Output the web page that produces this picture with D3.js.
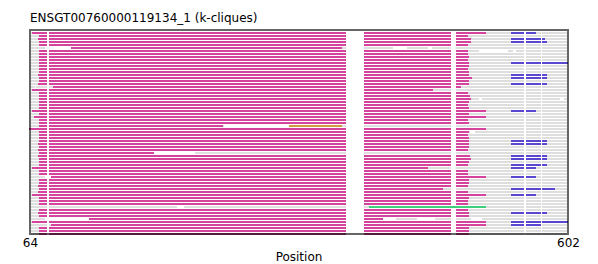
<!DOCTYPE html>
<html>
<head>
<meta charset="utf-8">
<script src="https://cdn.jsdelivr.net/npm/d3@7"></script>
<style>
  html, body { margin: 0; padding: 0; background: #fff; }
  svg { display: block; }
  text { font-family: "DejaVu Sans", sans-serif; fill: #000; }
</style>
</head>
<body>
<svg id="chart" width="598" height="264"></svg>
<script>
// ---------- data ----------
const title = "ENSGT00760000119134_1 (k-cliques)";
const xLabel = "Position";
const xDomain = [64, 602];
const xTicks = [64, 602];
const rowCount = 68;
const seqExtent = [65, 601];          // grey sequence line, every row

// clique segments: [row, start, end]
const magentaSegments = [
  [0,66,520],[1,73,502],[2,72,505],[3,73,505],[4,73,502],[5,105,376],[6,73,502],[7,73,502],
  [8,73,503],[9,73,502],[10,73,503],[11,73,503],[12,73,502],[13,73,503],[14,72,503],[15,73,506],
  [16,73,503],[17,72,503],[18,87,495],[19,66,467],[20,73,502],[21,73,504],[22,73,505],[23,73,503],
  [24,73,502],[25,73,503],[26,66,520],[27,73,503],[28,68,520],[29,73,502],[30,73,503],[31,73,257],
  [32,63,520],[33,73,503],[34,73,502],[35,73,503],[36,73,503],[37,72,503],[38,73,503],[39,72,502],
  [40,73,188],[41,72,504],[42,73,505],[43,73,503],[44,73,502],[45,66,462],[46,73,502],[47,73,502],
  [48,85,520],[49,73,503],[50,73,503],[51,72,502],[52,73,477],[53,72,502],[54,66,520],[55,73,503],
  [56,73,502],[57,73,502],[59,73,502],[60,72,503],[61,73,503],[62,123,417],[63,66,520],
  [64,85,520],[65,73,503],[66,73,503],[67,73,503]
];
const blueSegments = [
  [0,545,570],[2,545,579],[3,545,581],[10,545,602],[14,545,581],[15,545,581],[17,545,581],
  [26,545,570],[36,545,581],[37,545,581],[41,545,581],[42,545,581],[44,545,581],[45,545,570],
  [48,545,570],[52,545,589],[54,545,570],[60,545,581],[63,545,602],[64,545,575]
];
const greenSegments = [[58,403,520]];
const oliveSegments = [[31,323,376]];

// white gaps inside single rows: [row, start, end]
const rowGaps = [
  [5,79,105],[5,427,441],[5,462,466],
  [6,513,542],[6,547,550],
  [12,124,125],
  [18,69,70],
  [19,73,74],[19,168,182],[19,427,429],[19,430,435],[19,449,451],[19,454,457],
  [22,95,96],[22,212,213],[22,444,445],[22,513,516],[22,594,598],
  [28,96,97],
  [31,258,323],
  [33,504,509],
  [36,96,97],
  [40,188,229],
  [45,73,74],[45,427,429],[45,430,435],[45,449,451],[45,454,457],
  [47,427,428],
  [48,79,85],
  [58,211,218],
  [62,79,123],[62,417,430],[62,451,469],[62,505,516]
];
// white gap columns through every row: [start, end]
const gapColumns = [[81,83],[380,398],[485,490],[558,560],[575,576]];

const cliqueColors = {
  magenta: "#d4449c",
  blue: "#5a47d0",
  green: "#3ecf7c",
  olive: "#d29b3d"
};

// ---------- layout ----------
const svg = d3.select("#chart");
const plot = { left: 30, right: 568, top: 30, bottom: 234 };

const x = d3.scaleLinear().domain(xDomain).range([plot.left, plot.right]);
const y = d3.scaleLinear().domain([0, rowCount]).range([plot.top + 2, plot.top + 2 + 3 * rowCount]);
const rowH = 2;

const rows = d3.range(rowCount);
const g = svg.append("g");

// grey sequence lines
g.selectAll("rect.seq").data(rows).join("rect")
  .attr("class", "seq")
  .attr("x", x(seqExtent[0]))
  .attr("width", x(seqExtent[1]) - x(seqExtent[0]))
  .attr("y", d => y(d)).attr("height", rowH)
  .attr("fill", "#dedede");

// per-row white gaps
g.selectAll("rect.gap").data(rowGaps).join("rect")
  .attr("class", "gap")
  .attr("x", d => x(d[1])).attr("width", d => x(d[2]) - x(d[1]))
  .attr("y", d => y(d[0])).attr("height", rowH)
  .attr("fill", "#ffffff");

function drawSegs(data, color, cls) {
  g.selectAll("rect." + cls).data(data).join("rect")
    .attr("class", cls)
    .attr("x", d => x(d[1])).attr("width", d => x(d[2]) - x(d[1]))
    .attr("y", d => y(d[0])).attr("height", rowH)
    .attr("fill", color);
}
drawSegs(magentaSegments, cliqueColors.magenta, "mag");
drawSegs(blueSegments, cliqueColors.blue, "blu");
drawSegs(oliveSegments, cliqueColors.olive, "oli");

// gap columns through all rows
const colCells = [];
rows.forEach(r => gapColumns.forEach(c => colCells.push([r, c[0], c[1]])));
g.selectAll("rect.col").data(colCells).join("rect")
  .attr("class", "col")
  .attr("x", d => x(d[1])).attr("width", d => x(d[2]) - x(d[1]))
  .attr("y", d => y(d[0])).attr("height", rowH)
  .attr("fill", "#ffffff");

drawSegs(greenSegments, cliqueColors.green, "grn");

// frame
svg.append("rect")
  .attr("x", plot.left).attr("y", plot.top)
  .attr("width", plot.right - plot.left).attr("height", plot.bottom - plot.top)
  .attr("fill", "none").attr("stroke", "#000").attr("stroke-opacity", 0.6)
  .attr("stroke-width", 2);

// x tick labels
const xAxis = d3.axisBottom(x).tickValues(xTicks).tickSize(0).tickPadding(0).tickFormat(d3.format("d"));
const ax = svg.append("g").attr("transform", `translate(0,${plot.bottom})`).call(xAxis);
ax.select(".domain").remove();
ax.selectAll("text")
  .attr("y", 13).attr("dy", 0)
  .style("font-family", "DejaVu Sans").style("font-size", "12px").attr("fill", "#000");

// title and axis label
svg.append("text").attr("x", 30).attr("y", 22)
  .style("font-size", "12px").text(title);
svg.append("text").attr("x", (plot.left + plot.right) / 2).attr("y", 261)
  .attr("text-anchor", "middle").style("font-size", "12px").text(xLabel);
</script>
</body>
</html>
